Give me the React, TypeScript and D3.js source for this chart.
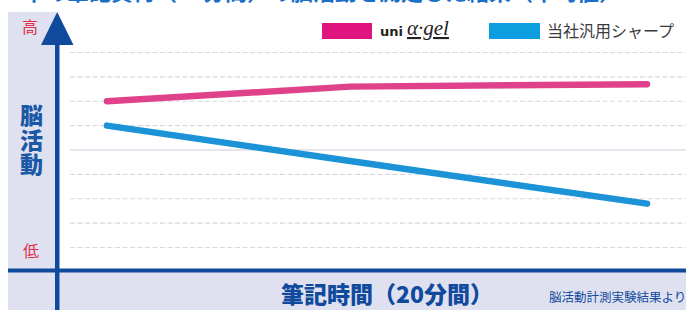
import React from "react";
import * as d3 from "d3";

const minutes = [0, 9, 20];
const alphaGel = [6.0, 6.6, 6.7];
const generic = [5.0, 3.55, 1.8];
const gridLevels = [0, 1, 2, 3, 4, 5, 6, 7, 8];
const legendLabels = ["uni", "α·gel", "当社汎用シャープ"];
const title = "3本の筆記負荷（20分間）の脳活動を測定した結果（平均値）";
const yLabel = "脳活動";
const xLabel = "筆記時間（20分間）";
const note = "脳活動計測実験結果より";

const W = 686;
const H = 310;
const FONT = "'Noto Sans CJK JP', 'Noto Sans', sans-serif";
const NAVY = "#104a9c";
const LAV = "#dfe1f1";
const PINK_LINE = "#df428b";
const BLUE_LINE = "#1b93d6";
const PINK = "#e0147f";
const BLUE = "#0d9ee0";

export default function App() {
  const x = d3.scaleLinear().domain([0, 20]).range([107, 647]);
  const y = d3.scaleLinear().domain([0, 8]).range([247.5, 52.5]);
  const line = d3
    .line<number>()
    .x((_, i) => x(minutes[i]))
    .y((d) => y(d));

  return (
    <svg
      width={W}
      height={H}
      style={{ position: "absolute", left: 0, top: 0, background: "#fff" }}
      fontFamily={FONT}
    >
      <rect x={0} y={0} width={W} height={H} fill="#fff" />
      <text x={10} y={0} fontSize={22} fontWeight={700} fill="#1a70c8">
        {title}
      </text>
      {/* lavender panels */}
      <rect x={8} y={12} width={48} height={H - 12} fill={LAV} />
      <rect x={8} y={270} width={W - 8} height={40} fill={LAV} />
      {/* grid */}
      {gridLevels.map((g) => (
        <line
          key={g}
          x1={70}
          x2={W}
          y1={y(g)}
          y2={y(g)}
          stroke={g === 4 ? "#dcdce8" : "#d9d9df"}
          strokeWidth={g === 4 ? 1.6 : 1.2}
          strokeDasharray={g === 4 ? undefined : "5,2.5"}
        />
      ))}
      {/* series lines */}
      <path
        d={line(alphaGel) || ""}
        fill="none"
        stroke={PINK_LINE}
        strokeWidth={6.5}
        strokeLinecap="round"
        strokeLinejoin="round"
      />
      <path
        d={line(generic) || ""}
        fill="none"
        stroke={BLUE_LINE}
        strokeWidth={6.5}
        strokeLinecap="round"
        strokeLinejoin="round"
      />
      {/* axes */}
      <rect x={8} y={268.5} width={W - 8} height={4} fill={NAVY} />
      <rect x={55} y={40} width={4.5} height={H - 40} fill={NAVY} />
      <polygon points="57.2,12 41,45 73.5,45" fill={NAVY} />
      {/* y labels */}
      <text x={30} y={33} fontSize={16} fill="#e03048" textAnchor="middle">
        高
      </text>
      <text x={31} y={257} fontSize={16} fill="#e03048" textAnchor="middle">
        低
      </text>
      <text
        x={31.5}
        y={104}
        fontSize={23}
        fontWeight={900}
        fill="#1a58a6"
        style={{ writingMode: "vertical-rl" }}
        letterSpacing={1.5}
      >
        {yLabel}
      </text>
      {/* x label */}
      <text x={387} y={302.5} fontSize={23} fontWeight={900} fill={NAVY} textAnchor="middle">
        {xLabel}
      </text>
      <text x={549} y={302} fontSize={12.5} fill={NAVY}>
        {note}
      </text>
      {/* legend */}
      <rect x={322} y={23} width={50} height={16} fill={PINK} />
      <text x={380} y={36} fontSize={13} fontWeight={900} fill="#222" fontFamily="'DejaVu Sans', sans-serif">
        {legendLabels[0]}
      </text>
      <text
        x={407}
        y={35}
        fontSize={21}
        fontStyle="italic"
        fill="#222"
        fontFamily="'Liberation Serif', serif"
        textDecoration="underline"
      >
        {legendLabels[1]}
      </text>
      <rect x={489} y={23} width={51} height={16} fill={BLUE} />
      <text x={547} y={37} fontSize={16} fill="#3a3a3a">
        {legendLabels[2]}
      </text>
    </svg>
  );
}
